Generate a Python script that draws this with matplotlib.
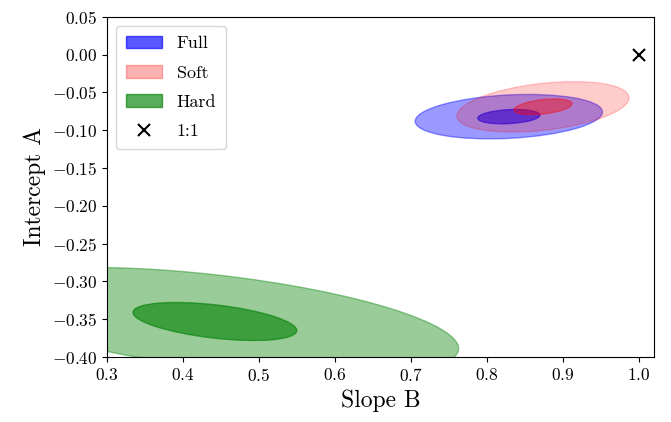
import matplotlib
matplotlib.use("Agg")
import matplotlib.pyplot as plt
from matplotlib.patches import Ellipse, Patch
from matplotlib.lines import Line2D
from matplotlib.ticker import FuncFormatter

# fitted (slope B, intercept A) error ellipses, inner = 1 sigma, outer = 3 sigma
groups = ["Full", "Soft", "Hard"]
colors = ["blue", "red", "green"]
center_b = [0.829, 0.874, 0.442]
center_a = [-0.082, -0.069, -0.353]
angle_deg = [3.0, 6.5, -6.6]
inner_w = [0.082, 0.077, 0.217]
inner_h = [0.0185, 0.019, 0.044]
outer_w = [0.247, 0.228, 0.646]
outer_h = [0.0575, 0.062, 0.123]
inner_alpha = [0.6, 0.4, 0.6]
outer_alpha = [0.4, 0.2, 0.4]
legend_alpha = [0.65, 0.3, 0.65]

ref_b, ref_a = [1.0], [0.0]

plt.rcParams["mathtext.fontset"] = "cm"
plt.rcParams["font.family"] = ["cmr10", "DejaVu Serif"]
plt.rcParams["axes.formatter.use_mathtext"] = True

fig = plt.figure(figsize=(6.71, 4.22), dpi=100)
ax = fig.add_axes([0.1595, 0.154, 0.815, 0.806])

for i, g in enumerate(groups):
    ax.add_patch(Ellipse((center_b[i], center_a[i]), outer_w[i], outer_h[i],
                         angle=angle_deg[i], color=colors[i], alpha=outer_alpha[i]))
    ax.add_patch(Ellipse((center_b[i], center_a[i]), inner_w[i], inner_h[i],
                         angle=angle_deg[i], color=colors[i], alpha=inner_alpha[i]))

ax.plot(ref_b, ref_a, "x", color="black", ms=9, mew=1.5)

ax.set_xlim(0.3, 1.02)
ax.set_ylim(-0.40, 0.05)
ax.set_xticks([0.3, 0.4, 0.5, 0.6, 0.7, 0.8, 0.9, 1.0])
ax.set_yticks([0.05, 0.0, -0.05, -0.10, -0.15, -0.20, -0.25, -0.30, -0.35, -0.40])
ax.xaxis.set_major_formatter(FuncFormatter(lambda v, p: r"$%.1f$" % v))
ax.yaxis.set_major_formatter(FuncFormatter(lambda v, p: r"$%.2f$" % v))
ax.tick_params(labelsize=12.5)
ax.set_xlabel("Slope B", fontsize=17)
ax.set_ylabel("Intercept A", fontsize=17)

handles = [Patch(facecolor=c, edgecolor=c, alpha=a) for c, a in zip(colors, legend_alpha)]
handles.append(Line2D([], [], ls="none", marker="x", color="black", ms=9, mew=1.5))
ax.legend(handles, groups + ["1:1"], loc="upper left", fontsize=13,
          labelspacing=0.75, borderpad=0.55, handlelength=2.0)

fig.savefig("out.png", dpi=100)
